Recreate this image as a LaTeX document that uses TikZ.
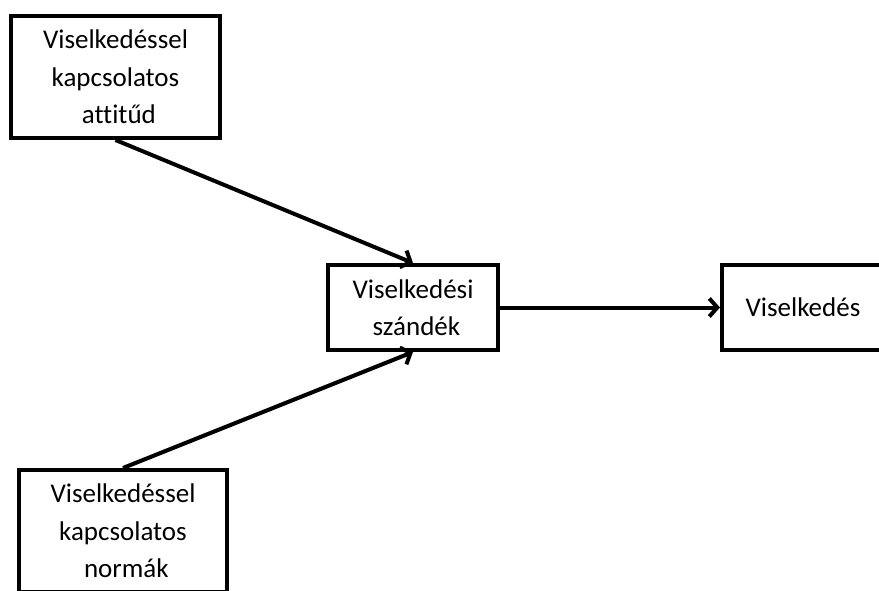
\documentclass[tikz,border=0pt]{standalone}
\usepackage{fontspec}
\setmainfont{Carlito}[Ligatures=NoCommon]
\usetikzlibrary{arrows.meta,positioning}

\tikzset{
  box/.style={draw,line width=4pt,align=center,inner sep=0pt,
    font=\fontsize{27}{37.5}\selectfont},
  link/.style={line width=4pt,-{Straight Barb[length=8pt,width=18pt]}}
}

\begin{document}
\begin{tikzpicture}[x=1pt,y=-1pt]
  % page frame, the right and lower boxes run off it
  \clip (0,0) rectangle (879,591);
  \fill[white] (0,0) rectangle (879,591);

  % the four boxes
  \node[box,minimum width=209pt,minimum height=122pt] (attitude) at (115.5,77)
    {Viselkedéssel\\kapcsolatos\\\hspace*{0.25em}attitűd};
  \node[box,minimum width=208pt,minimum height=122pt] (norms) at (123,531)
    {Viselkedéssel\\kapcsolatos\\\hspace*{0.25em}normák};
  \node[box,minimum width=170pt,minimum height=85pt] (intention) at (413,307.5)
    {Viselkedési\\\hspace*{0.25em}szándék};
  \node[box,minimum width=178pt,minimum height=85pt] (behaviour) at (811,307.5)
    {\hspace*{-16pt}Viselkedés};

  % arrows
  \draw[link] (attitude.south) -- (intention.north);
  \draw[link] (norms.north) -- (intention.south);
  \draw[link] (intention.east) -- (behaviour.west);
\end{tikzpicture}
\end{document}
